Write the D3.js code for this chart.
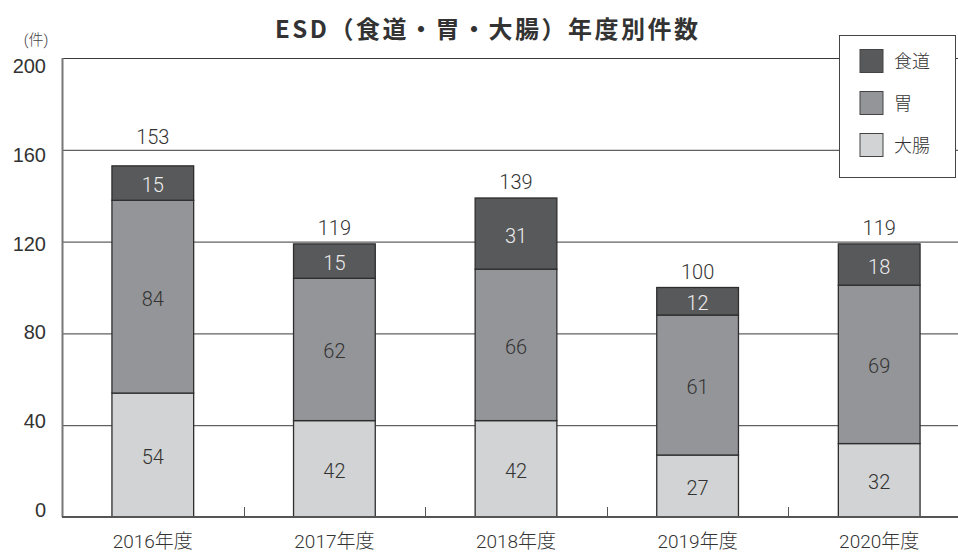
<!DOCTYPE html>
<html>
<head>
<meta charset="utf-8">
<script src="https://cdn.jsdelivr.net/npm/d3@7"></script>
<style>
  html, body { margin: 0; padding: 0; background: #fff; }
  svg { display: block; font-family: Roboto, "Noto Sans CJK JP", "Noto Sans", sans-serif; font-weight: 300; }
</style>
</head>
<body>
<svg id="chart" width="958" height="553"></svg>
<script>
// Annual ESD case counts by organ
const years = ["2016年度", "2017年度", "2018年度", "2019年度", "2020年度"];
const seriesNames = ["大腸", "胃", "食道"];           // stacked bottom to top
const colon = [54, 42, 42, 27, 32];
const stomach = [84, 62, 66, 61, 69];
const esophagus = [15, 15, 31, 12, 18];
const totals = [153, 119, 139, 100, 119];
const yTicks = [0, 40, 80, 120, 160, 200];
const legendOrder = ["食道", "胃", "大腸"];

const fills = { "食道": "#58595b", "胃": "#939598", "大腸": "#d1d3d4" };
const labelFill = { "食道": "#ececec", "胃": "#333", "大腸": "#333" };

const rows = years.map((y, i) => ({ year: y, "大腸": colon[i], "胃": stomach[i], "食道": esophagus[i], total: totals[i] }));

const svg = d3.select("#chart");
const W = 958;
const margin = { left: 62, top: 58, bottom: 517 };
const plotRight = 970;

const x = d3.scaleBand().domain(years).range([margin.left, plotRight]).paddingInner(0.55).paddingOuter(0.275);
const xOuter = d3.scaleBand().domain(years).range([margin.left, plotRight]).padding(0);
const y = d3.scaleLinear().domain([0, 200]).range([margin.bottom, margin.top]);
// tick labels sit on a slightly compressed scale of their own
const yLabel = d3.scaleLinear().domain([0, 200]).range([509, 65.5]);

// Horizontal gridlines
svg.append("g").selectAll("line").data(yTicks.filter(d => d > 0)).join("line")
  .attr("x1", margin.left).attr("x2", W)
  .attr("y1", d => y(d) + 0.5).attr("y2", d => y(d) + 0.5)
  .attr("stroke", "#3a3a3a").attr("stroke-width", 1);

// Y axis labels
const yAxis = svg.append("g").attr("transform", `translate(${margin.left},0)`)
  .call(d3.axisLeft(yLabel).tickValues(yTicks).tickSize(0).tickPadding(16));
yAxis.select(".domain").remove();
yAxis.selectAll("text").attr("font-size", 20).attr("fill", "#333").attr("dy", "0.36em")
  .attr("font-family", null).attr("font-weight", 300);

svg.append("text").attr("x", 36).attr("y", 45).attr("text-anchor", "middle")
  .attr("font-size", 15).attr("fill", "#444").text("(件)");

// Stacked bars
const stack = d3.stack().keys(seriesNames)(rows);
const layers = svg.append("g").selectAll("g").data(stack).join("g")
  .attr("fill", d => fills[d.key]);

layers.selectAll("rect").data(d => d.map(v => Object.assign(v, { key: d.key }))).join("rect")
  .attr("x", d => x(d.data.year))
  .attr("width", x.bandwidth())
  .attr("y", d => y(d[1]))
  .attr("height", d => y(d[0]) - y(d[1]))
  .attr("stroke", "#2e2e2e").attr("stroke-width", 1.3);

// Segment value labels
layers.selectAll("text").data(d => d).join("text")
  .attr("x", d => x(d.data.year) + x.bandwidth() / 2)
  .attr("y", d => (y(d[0]) + y(d[1])) / 2)
  .attr("dy", "0.45em")
  .attr("text-anchor", "middle")
  .attr("font-size", 20)
  .attr("fill", d => labelFill[d.key])
  .text(d => d[1] - d[0]);

// Totals above bars; a label that would sit on a gridline is lifted above it
function totalCenter(v) {
  const c = y(v) - 16;
  const hit = yTicks.find(t => t > 0 && Math.abs(y(t) - c) < 10);
  return hit !== undefined ? y(hit) - 13 : c;
}
svg.append("g").selectAll("text").data(rows).join("text")
  .attr("x", d => x(d.year) + x.bandwidth() / 2)
  .attr("y", d => totalCenter(d.total))
  .attr("dy", "0.36em")
  .attr("text-anchor", "middle")
  .attr("font-size", 20).attr("fill", "#333")
  .text(d => d.total);

// Left axis line
svg.append("line").attr("x1", margin.left + 0.5).attr("x2", margin.left + 0.5)
  .attr("y1", margin.top).attr("y2", margin.bottom)
  .attr("stroke", "#777").attr("stroke-width", 2);

// Baseline and category separator ticks
svg.append("line").attr("x1", margin.left).attr("x2", W)
  .attr("y1", margin.bottom).attr("y2", margin.bottom)
  .attr("stroke", "#555").attr("stroke-width", 2);
svg.append("g").selectAll("line").data(years.slice(1)).join("line")
  .attr("x1", d => Math.round(xOuter(d)) + 0.5).attr("x2", d => Math.round(xOuter(d)) + 0.5)
  .attr("y1", margin.bottom - 10).attr("y2", margin.bottom)
  .attr("stroke", "#555").attr("stroke-width", 1);

// X axis labels
svg.append("g").selectAll("text").data(years).join("text")
  .attr("x", d => x(d) + x.bandwidth() / 2)
  .attr("y", 548)
  .attr("text-anchor", "middle")
  .attr("font-size", 19).attr("fill", "#333")
  .text(d => d);

// Title
svg.append("text").attr("x", 275).attr("y", 38)
  .attr("font-size", 24).attr("font-weight", 700).attr("fill", "#333")
  .attr("font-family", "'Noto Sans CJK JP', sans-serif")
  .attr("textLength", 423).attr("lengthAdjust", "spacing")
  .text("ESD（食道・胃・大腸）年度別件数");

// Legend
const lg = svg.append("g");
lg.append("rect").attr("x", 839.5).attr("y", 35.5).attr("width", 116).attr("height", 142)
  .attr("fill", "#fff").attr("stroke", "#444").attr("stroke-width", 1);
const items = lg.selectAll("g").data(legendOrder).join("g")
  .attr("transform", (d, i) => `translate(860,${49.5 + i * 42})`);
items.append("rect").attr("width", 23).attr("height", 23)
  .attr("fill", d => fills[d]).attr("stroke", "#444").attr("stroke-width", 1);
items.append("text").attr("x", 34).attr("y", 12).attr("dy", "0.38em")
  .attr("font-size", 18).attr("fill", "#333").text(d => d);
</script>
</body>
</html>
